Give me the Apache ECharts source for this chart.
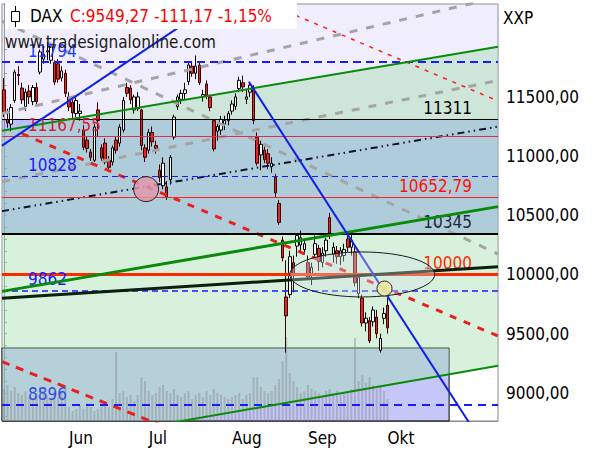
<!DOCTYPE html>
<html>
<head>
<meta charset="utf-8">
<script src="https://cdn.jsdelivr.net/npm/echarts@6/dist/echarts.min.js"></script>
<style>
  html, body { margin: 0; padding: 0; background: #fff; }
  #chart { width: 595px; height: 450px; }
</style>
</head>
<body>
<div id="chart"></div>
<script>
const FONT = '"DejaVu Sans Condensed", "DejaVu Sans", sans-serif'

// trading days 2015, one list per month
const mayDays = [6, 7, 8, 11, 12, 13, 14, 15, 18, 19, 20, 21, 22, 25, 26, 27, 28, 29]
const junDays = [1, 2, 3, 4, 5, 8, 9, 10, 11, 12, 15, 16, 17, 18, 19, 22, 23, 24, 25, 26, 29, 30]
const julDays = [1, 2, 3, 6, 7, 8, 9, 10, 13, 14, 15, 16, 17, 20, 21, 22, 23, 24, 27, 28, 29, 30, 31]
const augDays = [3, 4, 5, 6, 7, 10, 11, 12, 13, 14, 17, 18, 19, 20, 21, 24, 25, 26, 27, 28, 31]
const sepDays = [1, 2, 3, 4, 7, 8, 9, 10, 11, 14, 15, 16, 17, 18, 21, 22, 23, 24, 25, 28, 29, 30]
const oktDays = [1, 2, 5, 6, 7, 8, 9, 12, 13, 14, 15, 16, 19, 20, 21, 22, 23, 26, 27, 28, 29, 30]
const novDays = [2, 3, 4, 5, 6, 9, 10, 11, 12]
const monthNames = ['Mai', 'Jun', 'Jul', 'Aug', 'Sep', 'Okt', 'Nov']
const labelledMonths = ['Jun', 'Jul', 'Aug', 'Sep', 'Okt']

// DAX daily [open, close, low, high]
const candles = [
  [11560, 11360, 11330, 11660], [11310, 11280, 11240, 11400], [11270, 11410, 11210, 11440],
  [11470, 11710, 11450, 11730], [11690, 11680, 11600, 11760], [11575, 11475, 11440, 11620],
  [11420, 11540, 11380, 11570], [11550, 11500, 11440, 11600], [11460, 11580, 11430, 11600],
  [11580, 11460, 11420, 11620], [11710, 11880, 11690, 11900], [11820, 11860, 11780, 11920],
  [11880, 11890, 11810, 11960], [11810, 11930, 11780, 11950], [11790, 11625, 11600, 11810],
  [11780, 11650, 11620, 11820], [11660, 11720, 11630, 11760], [11700, 11530, 11500, 11730],
  // Jun
  [11500, 11415, 11380, 11540], [11455, 11365, 11320, 11480], [11360, 11470, 11330, 11500],
  [11360, 11380, 11300, 11440], [11220, 11075, 11050, 11260], [11135, 11065, 11030, 11170],
  [11035, 10990, 10960, 11060], [10965, 11245, 10950, 11270], [11390, 11300, 11160, 11455],
  [11070, 10985, 10960, 11100], [11110, 10950, 10930, 11150], [10965, 10905, 10880, 11000],
  [10950, 11070, 10920, 11090], [11135, 11050, 11020, 11170], [11110, 11245, 11080, 11270],
  [11220, 11470, 11200, 11500], [11580, 11530, 11500, 11620], [11575, 11475, 11440, 11600],
  [11390, 11500, 11360, 11520], [11400, 11500, 11380, 11540], [11390, 11090, 11050, 11400],
  [11070, 10990, 10950, 11100],
  // Jul
  [11050, 11200, 11020, 11230], [11200, 11120, 11080, 11250], [11090, 11065, 11020, 11130],
  [10880, 10820, 10780, 10930], [10750, 10940, 10720, 10990], [10740, 10655, 10630, 10790],
  [10800, 10990, 10760, 11010], [11160, 11330, 11140, 11350], [11420, 11500, 11390, 11520],
  [11480, 11530, 11440, 11560], [11530, 11560, 11480, 11620], [11630, 11770, 11600, 11800],
  [11760, 11700, 11670, 11790], [11700, 11760, 11650, 11850], [11770, 11620, 11600, 11800],
  [11500, 11520, 11460, 11560], [11610, 11510, 11480, 11640], [11500, 11410, 11380, 11520],
  [11300, 11060, 11040, 11310], [11210, 11250, 11130, 11280], [11220, 11310, 11180, 11340],
  [11270, 11300, 11220, 11340], [11300, 11360, 11260, 11380],
  // Aug
  [11380, 11440, 11350, 11470], [11420, 11500, 11390, 11530], [11570, 11640, 11540, 11670],
  [11620, 11585, 11540, 11680], [11480, 11500, 11440, 11560], [11540, 11600, 11500, 11628],
  [11560, 11300, 11270, 11600], [11160, 10940, 10920, 11200], [11010, 11100, 10880, 11130],
  [11050, 10970, 10940, 11080], [11020, 10940, 10890, 11060], [10910, 10940, 10860, 10990],
  [10820, 10690, 10650, 10850], [10600, 10440, 10420, 10630], [10290, 10140, 10110, 10320],
  [9810, 9650, 9340, 10120], [9830, 10150, 9800, 10200], [10100, 9990, 9850, 10160],
  [10240, 10330, 10150, 10350], [10250, 10310, 10190, 10370], [10210, 10260, 10170, 10300],
  // Sep
  [10100, 9980, 9960, 10160], [10000, 10060, 9910, 10100], [10170, 10260, 10130, 10330],
  [10220, 10110, 10030, 10250], [10100, 10180, 10060, 10230], [10200, 10290, 10150, 10310],
  [10480, 10350, 10300, 10520], [10170, 10230, 10100, 10270], [10200, 10150, 10090, 10240],
  [10150, 10200, 10080, 10230], [10160, 10210, 10110, 10260], [10300, 10230, 10190, 10340],
  [10230, 10290, 10160, 10340], [10190, 9930, 9900, 10230], [9840, 9980, 9800, 10010],
  [9800, 9590, 9560, 9830], [9590, 9630, 9520, 9680], [9610, 9440, 9420, 9640],
  [9600, 9700, 9560, 9730], [9640, 9500, 9460, 9700], [9360, 9460, 9340, 9500],
  [9630, 9670, 9580, 9720],
  // Okt
  [9740, 9549.27, 9500, 9800]
]

const volumes = [
  32, 36, 30, 34, 28, 26, 30, 24, 22, 28, 34, 30, 26, 22, 28, 24, 30, 36,
  14, 10, 12, 16, 12, 18, 14, 10, 12, 20, 16, 14, 22, 69, 28, 30, 24, 26, 20, 26, 44, 40,
  30, 26, 28, 34, 36, 30, 28, 32, 26, 24, 28, 30, 22, 26, 28, 24, 30, 26, 32, 28, 26, 24, 22,
  24, 26, 28, 22, 26, 28, 44, 44, 34, 30, 28, 30, 36, 42, 60, 84, 48, 40, 34, 28, 30,
  36, 32, 30, 28, 26, 30, 32, 28, 30, 26, 28, 30, 32, 83, 40, 46, 38, 44, 36, 32, 34, 30,
  22
]

const yMin = 8762
const yMax = 12285
const volMax = 417

// horizontal levels
const levelValues = [11794, 11311, 11167.55, 10828, 10652.79, 10345, 10000, 9862, 9379, 8896]
const levelLabels = ['11794', '11311', '11167,55', '10828', '10652,79', '10345', '10000', '9862', '9379', '8896']

// trend lines, two anchors each: [bar index, price]
const upperGreen = [[-0.5, 11214], [136.5, 11924]]
const middleGreen = [[-0.5, 9857], [136.5, 10573]]
const lowerGreen = [[-0.5, 8497], [136.5, 9228]]
const channelMid = [[-0.5, 10535], [136.5, 11249]]
const blackTrend = [[-0.5, 9799], [136.5, 10066]]
const blueUp = [[-0.5, 11089], [58.3, 12292]]
const blueDown = [[67.7, 11628], [130, 8678]]
const redMid = [[5, 11189], [136.5, 9480]]
const redLow = [[-0.5, 9263], [45, 8707]]
const redHigh = [[73, 12288], [136.5, 11466]]
const grayUp1 = [[-0.5, 11359], [129.6, 12292]]
const grayUp2 = [[-0.5, 10784], [136.5, 11639]]
const grayDown = [[-0.5, 12140], [136.5, 10172]]

// zones [low, high]
const zoneTop = [11311, yMax]
const zoneMid = [10345, 11311]
const zoneLow = [yMin, 9379]
const zoneLowEnd = 123

// ellipse [center bar, center price, half width in bars, half height in points]
const ellipse = [[99, 10000, 20, 190]]
const circleMarks = [[39.3, 10721], [105.15, 9881]]

// build categories
const allMonths = [mayDays, junDays, julDays, augDays, sepDays, oktDays, novDays]
const categories = []
const monthStart = {}
allMonths.forEach((days, m) => {
  days.forEach((d, k) => {
    const key = '2015-' + String(m + 5).padStart(2, '0') + '-' + String(d).padStart(2, '0')
    if (k === 0) monthStart[categories.length] = monthNames[m]
    categories.push(key)
  })
})
const barCount = categories.length
const isMonthLabel = (idx) => labelledMonths.includes(monthStart[idx])

const chart = echarts.init(document.getElementById('chart'), null, { renderer: 'svg' })

const clipToGrid = (params) => ({
  type: 'rect',
  shape: { x: params.coordSys.x, y: params.coordSys.y, width: params.coordSys.width, height: params.coordSys.height }
})

const trend = (name, data, lineStyle, z) => ({
  name, type: 'line', xAxisIndex: 1, yAxisIndex: 0,
  data, showSymbol: false, symbol: 'none', silent: true, z,
  lineStyle
})

const levelStyles = [
  { color: '#1a1aff', width: 2, type: [8, 5], side: 'start', label: '#2a3cff' },
  { color: '#000000', width: 1, type: 'solid', side: 'end', label: '#000000' },
  { color: '#d8304a', width: 1, type: 'solid', side: 'start', label: '#e01838' },
  { color: '#1a1aff', width: 1, type: [6, 4], side: 'start', label: '#1a1aff' },
  { color: '#ff2020', width: 1, type: 'solid', side: 'end', label: '#ff1010' },
  { color: '#000000', width: 2, type: 'solid', side: 'end', label: '#1a2a40' },
  { color: '#ff2a00', width: 3, type: 'solid', side: 'end', label: '#ff2a00' },
  { color: '#1a1aff', width: 1.5, type: [6, 4], side: 'start', label: '#1a1aff' },
  { color: '#000000', width: 0, type: 'solid', side: 'end', label: '#404040' },
  { color: '#1a1aff', width: 2, type: [8, 6], side: 'start', label: '#3050e0' }
]

const option = {
  animation: false,
  backgroundColor: '#ffffff',
  textStyle: { fontFamily: FONT },
  grid: {
    left: 2, right: 97, top: 4, bottom: 29,
    show: true, backgroundColor: '#ffffff', borderColor: '#8c8c8c', borderWidth: 1
  },
  xAxis: [
    {
      type: 'category',
      data: categories,
      boundaryGap: true,
      axisLine: { lineStyle: { color: '#8c8c8c' } },
      axisTick: { interval: (i) => isMonthLabel(i), length: 5, lineStyle: { color: '#000' } },
      axisLabel: {
        interval: (i) => isMonthLabel(i),
        formatter: (v, i) => monthStart[i] || '',
        align: 'left', margin: 8,
        color: '#000', fontSize: 17, fontFamily: FONT
      },
      splitLine: { show: false }
    },
    { type: 'value', min: -0.5, max: barCount - 0.5, show: false }
  ],
  yAxis: [
    {
      type: 'value', position: 'right', min: yMin, max: yMax, splitNumber: 7,
      axisLine: { show: true, lineStyle: { color: '#8c8c8c' } },
      axisTick: { show: true, length: 3, lineStyle: { color: '#8c8c8c' } },
      minorTick: { show: true, splitNumber: 5, length: 3, lineStyle: { color: '#8c8c8c' } },
      splitLine: { show: false },
      axisLabel: {
        margin: 8, color: '#000', fontSize: 17, fontFamily: FONT,
        formatter: (v) => (v % 500 === 0 && v >= 9000 && v <= 11500) ? v.toFixed(2).replace('.', ',') : ''
      }
    },
    { type: 'value', min: 0, max: volMax, show: false }
  ],
  graphic: [
    { type: 'rect', shape: { x: 5, y: 0, width: 292, height: 29 }, style: { fill: '#ffffff' }, z: 100 },
    { type: 'line', shape: { x1: 15.5, y1: 6, x2: 15.5, y2: 27 }, style: { stroke: '#000', lineWidth: 1 }, z: 101 },
    { type: 'rect', shape: { x: 11.5, y: 11.5, width: 8, height: 10 }, style: { fill: '#fff', stroke: '#000', lineWidth: 1 }, z: 102 },
    { type: 'text', x: 30, y: 16, z: 102, style: { text: 'DAX', fill: '#000', fontSize: 17, fontFamily: FONT, verticalAlign: 'middle' } },
    { type: 'text', x: 70, y: 16, z: 102, style: { text: 'C:9549,27 -111,17 -1,15%', fill: '#ff0000', fontSize: 17, fontFamily: FONT, verticalAlign: 'middle' } },
    { type: 'text', x: 5, y: 42, z: 100, style: { text: 'www.tradesignalonline.com', fill: '#1a1a1a', fontSize: 17, fontFamily: FONT, verticalAlign: 'middle' } },
    { type: 'text', x: 503, y: 18, z: 100, style: { text: 'XXP', fill: '#000', fontSize: 17, fontFamily: FONT, verticalAlign: 'middle' } }
  ],
  series: [
    {
      name: 'channel',
      type: 'custom',
      xAxisIndex: 1, yAxisIndex: 0,
      silent: true, z: 1,
      data: [[0, 10000]],
      renderItem: (params, api) => {
        const pts = [upperGreen[0], upperGreen[1], lowerGreen[1], lowerGreen[0]].map(p => api.coord(p))
        return {
          type: 'polygon',
          shape: { points: pts },
          style: { fill: 'rgba(160,222,172,0.42)' },
          clipPath: clipToGrid(params)
        }
      },
      markArea: {
        silent: true,
        data: [
          [{ yAxis: zoneTop[0], itemStyle: { color: 'rgba(185,175,240,0.22)' } }, { yAxis: zoneTop[1] }],
          [{ yAxis: zoneMid[0], itemStyle: { color: 'rgba(120,130,250,0.5)' } }, { yAxis: zoneMid[1] }],
          [{ coord: [-0.5, zoneLow[0]], itemStyle: { color: 'rgba(130,135,240,0.47)', borderColor: '#000', borderWidth: 1 } },
           { coord: [zoneLowEnd, zoneLow[1]] }]
        ]
      }
    },
    {
      name: 'Volumen',
      type: 'bar',
      xAxisIndex: 0, yAxisIndex: 1,
      data: volumes,
      barWidth: 2,
      silent: true, z: 1,
      itemStyle: { color: 'rgba(140,140,150,0.45)' }
    },
    {
      name: 'DAX',
      type: 'candlestick',
      xAxisIndex: 0, yAxisIndex: 0,
      data: candles,
      barWidth: 3,
      z: 2,
      itemStyle: { color: '#ffffff', color0: '#e02828', borderColor: '#000000', borderColor0: '#3a0000', borderWidth: 1 }
    },
    {
      name: 'levels',
      type: 'line',
      xAxisIndex: 1, yAxisIndex: 0,
      data: [],
      z: 3,
      markLine: {
        silent: true,
        symbol: ['none', 'none'],
        data: levelValues.map((v, i) => {
          const s = levelStyles[i]
          return {
            yAxis: v,
            lineStyle: { color: s.color, width: s.width, type: s.type, opacity: s.width ? 1 : 0 },
            label: {
              show: true,
              position: s.side === 'start' ? 'insideStartTop' : 'insideEndTop',
              distance: [26, 3],
              formatter: levelLabels[i],
              color: s.label, fontSize: 17, fontFamily: FONT
            }
          }
        })
      }
    },
    trend('grayUp1', grayUp1, { color: '#a4a4a4', width: 3, type: [8, 9] }, 4),
    trend('grayUp2', grayUp2, { color: '#a4a4a4', width: 3, type: [8, 9] }, 4),
    trend('grayDown', grayDown, { color: '#a4a4a4', width: 3, type: [8, 9] }, 4),
    trend('redHigh', redHigh, { color: '#ff1a1a', width: 1.5, type: [4, 6] }, 4),
    trend('redMid', redMid, { color: '#e82020', width: 3, type: [7, 8] }, 4),
    trend('redLow', redLow, { color: '#e82020', width: 3, type: [8, 7] }, 4),
    trend('channelMid', channelMid, { color: '#101030', width: 2, type: [7, 4, 1.5, 4, 1.5, 4] }, 4),
    trend('upperGreen', upperGreen, { color: '#0a8a0a', width: 2 }, 5),
    trend('middleGreen', middleGreen, { color: '#0a8a0a', width: 3 }, 5),
    trend('lowerGreen', lowerGreen, { color: '#0a8a0a', width: 2 }, 5),
    trend('blackTrend', blackTrend, { color: '#0a200a', width: 3 }, 5),
    trend('blueUp', blueUp, { color: '#1020e8', width: 2 }, 5),
    trend('blueDown', blueDown, { color: '#1020e8', width: 2 }, 5),
    {
      name: 'ellipse',
      type: 'custom',
      xAxisIndex: 1, yAxisIndex: 0,
      silent: true, z: 6,
      data: ellipse,
      renderItem: (params, api) => {
        const c = api.coord([api.value(0), api.value(1)])
        const s = api.size([api.value(2), api.value(3)])
        return {
          type: 'ellipse',
          shape: { cx: c[0], cy: c[1], rx: s[0], ry: s[1] },
          style: { fill: 'rgba(215,225,235,0.35)', stroke: '#1a1a1a', lineWidth: 1 }
        }
      }
    },
    {
      name: 'marks',
      type: 'custom',
      xAxisIndex: 1, yAxisIndex: 0,
      silent: true, z: 6,
      data: circleMarks,
      renderItem: (params, api) => {
        const c = api.coord([api.value(0), api.value(1)])
        const big = params.dataIndex === 0
        return {
          type: 'circle',
          shape: { cx: c[0], cy: c[1], r: big ? 12.5 : 7.5 },
          style: {
            fill: big ? 'rgba(225,150,170,0.85)' : 'rgba(235,235,160,0.9)',
            stroke: '#302020', lineWidth: 1
          }
        }
      }
    }
  ]
}

chart.setOption(option)
</script>
</body>
</html>
